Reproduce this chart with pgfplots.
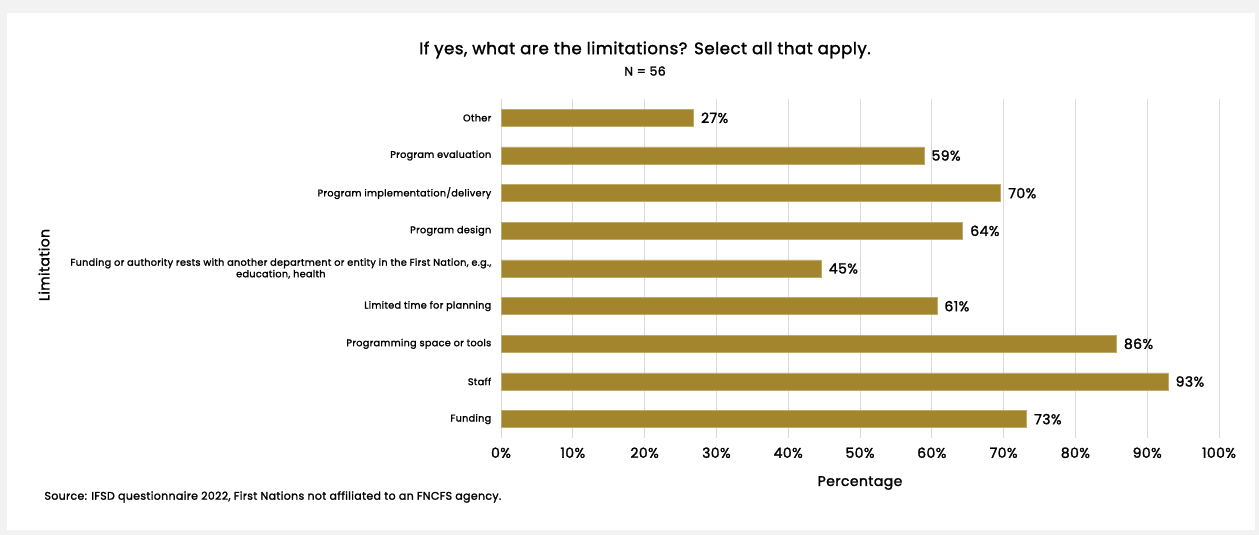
\documentclass[border=0pt]{standalone}
\usepackage{fontspec}
\setmainfont{Poppins}[FakeBold=1.6, LetterSpace=3]
\usepackage{pgfplots}
\pgfplotsset{compat=1.18}
\definecolor{bargold}{HTML}{A2852C}
\definecolor{bgrey}{HTML}{F2F2F2}
\definecolor{gridc}{HTML}{D9D9D9}
\begin{document}
\begin{tikzpicture}[x=1bp,y=1bp]
\fill[bgrey] (0,0) rectangle (1259,535);
\fill[white] (7,5) rectangle (1255,522);
\begin{axis}[
  at={(501bp,97bp)}, anchor=south west,
  scale only axis, width=718bp, height=339bp,
  xmin=0, xmax=100, ymin=-0.5, ymax=8.5,
  xbar, bar width=17bp,
  xtick={0,10,...,100},
  xticklabel={\pgfmathprintnumber{\tick}\%},
  /pgf/number format/assume math mode=true,
  xticklabel style={font=\fontsize{14bp}{16bp}\selectfont, yshift=-6bp},
  xmajorgrids, grid style={gridc, line width=0.8bp},
  major x tick style={draw=none},
  ytick={0,...,8},
  yticklabels={Funding, Staff, Programming space or tools, Limited time for planning, {Funding or authority rests with another department or entity in the First Nation, e.g.,\\ education, health}, Program design, Program implementation/delivery, Program evaluation, Other},
  yticklabel style={font=\fontsize{9.7bp}{11.5bp}\selectfont, align=center, xshift=-2bp},
  extra y ticks={-0.5,0.5,...,8.5},
  extra y tick labels={},
  extra y tick style={major tick length=5bp, tick style={gridc, line width=0.8bp}, grid=none},
  major y tick style={draw=none},
  axis x line*=bottom, axis y line*=left,
  x axis line style={draw=none},
  y axis line style={gridc, line width=0.8bp},
  nodes near coords={\pgfmathprintnumber[fixed,precision=0]{\pgfplotspointmeta}\%},
  point meta=explicit,
  nodes near coords style={font=\fontsize{14bp}{16bp}\selectfont, anchor=west, xshift=4bp, /pgf/number format/assume math mode=true},
  clip=false,
]
\addplot[fill=bargold, draw=bargold!70!white, line width=0.6bp] coordinates {
  (73.2,0) [73]
  (92.9,1) [93]
  (85.7,2) [86]
  (60.7,3) [61]
  (44.6,4) [45]
  (64.3,5) [64]
  (69.6,6) [70]
  (58.9,7) [59]
  (26.8,8) [27]
};
\end{axis}
\node[font=\fontsize{16.6bp}{18bp}\selectfont] at (645,485) {If yes, what are the limitations? Select all that apply.};
\node[font=\fontsize{12.5bp}{14bp}\selectfont] at (645,464) {N = 56};
\node[font=\fontsize{14bp}{16bp}\selectfont] at (860,52) {Percentage};
\node[font=\fontsize{14bp}{16bp}\selectfont, rotate=90] at (44,270) {Limitation};
\node[font=\fontsize{11bp}{12bp}\selectfont, anchor=west] at (41,38) {Source: IFSD questionnaire 2022, First Nations not affiliated to an FNCFS agency.};
\end{tikzpicture}
\end{document}
